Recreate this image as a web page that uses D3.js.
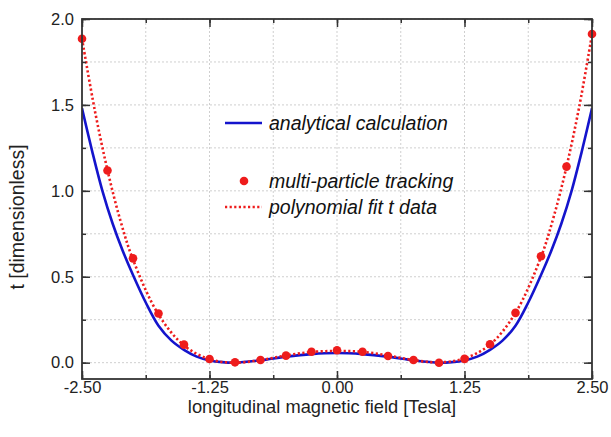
<!DOCTYPE html>
<html>
<head>
<meta charset="utf-8">
<script src="https://cdn.jsdelivr.net/npm/d3@7/dist/d3.min.js"></script>
<style>
  html, body { margin: 0; padding: 0; background: #fff; }
  svg { display: block; font-family: "Liberation Sans", Arial, sans-serif; }
</style>
</head>
<body>
<svg id="chart" width="611" height="437"></svg>
<script>
// ---- data ----
const xTicks = [-2.5, -1.25, 0, 1.25, 2.5];
const xTickLabels = ["-2.50", "-1.25", "0.00", "1.25", "2.50"];
const xMinorTicks = [-2.5, -1.875, -1.25, -0.625, 0, 0.625, 1.25, 1.875, 2.5];
const yTicks = [0, 0.5, 1.0, 1.5, 2.0];
const yTickLabels = ["0.0", "0.5", "1.0", "1.5", "2.0"];
const yMinorTicks = [0, 0.25, 0.5, 0.75, 1.0, 1.25, 1.5, 1.75, 2.0];

// multi-particle tracking (points)
const trackX = [-2.5, -2.25, -2.0, -1.75, -1.5, -1.25, -1.0, -0.75, -0.5, -0.25, 0,
                0.25, 0.5, 0.75, 1.0, 1.25, 1.5, 1.75, 2.0, 2.25, 2.5];
const trackY = [1.885, 1.118, 0.607, 0.286, 0.105, 0.021, 0.002, 0.016, 0.041, 0.064, 0.072,
                0.064, 0.039, 0.016, 0.0, 0.022, 0.107, 0.29, 0.619, 1.141, 1.913];

// polynomial fit of t data (dotted)
const fitX = [-2.5, -2.375, -2.25, -2.125, -2.0, -1.75, -1.5, -1.25, -1.0, -0.75, -0.5, -0.25, 0,
              0.25, 0.5, 0.75, 1.0, 1.25, 1.5, 1.75, 2.0, 2.125, 2.25, 2.375, 2.5];
const fitY = [1.885, 1.47, 1.12, 0.83, 0.60, 0.28, 0.10, 0.02, 0.0, 0.015, 0.042, 0.062, 0.068,
              0.063, 0.042, 0.015, 0.002, 0.025, 0.105, 0.29, 0.615, 0.85, 1.14, 1.49, 1.91];

// analytical calculation (solid)
const anaX = [-2.5, -2.4, -2.3, -2.2, -2.1, -2.0, -1.875, -1.75, -1.625, -1.5, -1.375, -1.25, -1.125, -1.0,
              -0.75, -0.5, -0.25, 0, 0.25, 0.5, 0.75,
              1.0, 1.125, 1.25, 1.375, 1.5, 1.625, 1.75, 1.875, 2.0, 2.1, 2.2, 2.3, 2.4, 2.5];
const anaY = [1.48, 1.23, 1.00, 0.81, 0.65, 0.51, 0.35, 0.215, 0.13, 0.075, 0.035, 0.013, 0.003, 0.0,
              0.014, 0.035, 0.05, 0.056, 0.05, 0.035, 0.014,
              0.0, 0.003, 0.013, 0.035, 0.075, 0.13, 0.215, 0.35, 0.51, 0.65, 0.81, 1.00, 1.23, 1.48];

const legendLabels = ["analytical calculation", "multi-particle tracking", "polynomial fit t data"];
const xTitle = "longitudinal magnetic field [Tesla]";
const yTitle = "t [dimensionless]";

(function draw() {
// ---- layout ----
const pL = 82, pR = 592, pT = 19, pB = 379;
const svg = d3.select("#chart");
const x = d3.scaleLinear().domain([-2.5, 2.5]).range([pL, pR]);
const y = d3.scaleLinear().domain([-0.095, 2.0]).range([pB, pT]);

const blue = "#1414cc", red = "#ee1c1c", frame = "#333";

// grid
const grid = svg.append("g").attr("stroke", "#cfcfcf").attr("stroke-width", 1).attr("stroke-dasharray", "2,2");
grid.selectAll("line.gx").data(xMinorTicks.slice(1, -1)).join("line")
  .attr("x1", d => x(d)).attr("x2", d => x(d)).attr("y1", pT).attr("y2", pB);
grid.selectAll("line.gy").data(yMinorTicks).join("line")
  .attr("x1", pL).attr("x2", pR).attr("y1", d => y(d)).attr("y2", d => y(d));

// clip
svg.append("clipPath").attr("id", "plot").append("rect")
  .attr("x", pL).attr("y", pT).attr("width", pR - pL).attr("height", pB - pT);

const line = d3.line().x(d => x(d[0])).y(d => y(d[1])).curve(d3.curveCatmullRom.alpha(0.5));

svg.append("path").datum(anaX.map((v, i) => [v, anaY[i]]))
  .attr("d", line).attr("fill", "none").attr("stroke", blue).attr("stroke-width", 2.6)
  .attr("clip-path", "url(#plot)");

svg.append("path").datum(fitX.map((v, i) => [v, fitY[i]]))
  .attr("d", line).attr("fill", "none").attr("stroke", red).attr("stroke-width", 2.6)
  .attr("stroke-dasharray", "2.2,2.4").attr("clip-path", "url(#plot)");

svg.append("g").selectAll("circle").data(trackX.map((v, i) => [v, trackY[i]])).join("circle")
  .attr("cx", d => x(d[0])).attr("cy", d => y(d[1])).attr("r", 4.3).attr("fill", red);

// axes (ticks inward)
const axG = svg.append("g");
function addAxis(axis, transform) {
  const g = axG.append("g").attr("transform", transform).call(axis);
  g.select(".domain").remove();
  g.selectAll(".tick line").attr("stroke", frame).attr("stroke-width", 1.5);
  return g;
}
addAxis(d3.axisBottom(x).tickValues(xMinorTicks).tickSize(-4).tickFormat(""), `translate(0,${pB})`);
addAxis(d3.axisTop(x).tickValues(xMinorTicks).tickSize(-4).tickFormat(""), `translate(0,${pT})`);
addAxis(d3.axisLeft(y).tickValues(yMinorTicks).tickSize(-4).tickFormat(""), `translate(${pL},0)`);
addAxis(d3.axisRight(y).tickValues(yMinorTicks).tickSize(-4).tickFormat(""), `translate(${pR},0)`);

const xb = addAxis(d3.axisBottom(x).tickValues(xTicks).tickSize(-8).tickPadding(2)
  .tickFormat((d, i) => xTickLabels[i]), `translate(0,${pB})`);
xb.selectAll("text").attr("font-size", 16.5).attr("fill", "#222").attr("font-family", "Liberation Sans, Arial, sans-serif");
addAxis(d3.axisTop(x).tickValues(xTicks).tickSize(-8).tickFormat(""), `translate(0,${pT})`);
const yl = addAxis(d3.axisLeft(y).tickValues(yTicks).tickSize(-8).tickPadding(8)
  .tickFormat((d, i) => yTickLabels[i]), `translate(${pL},0)`);
yl.selectAll("text").attr("font-size", 16.5).attr("fill", "#222").attr("font-family", "Liberation Sans, Arial, sans-serif");
addAxis(d3.axisRight(y).tickValues(yTicks).tickSize(-8).tickFormat(""), `translate(${pR},0)`);

svg.append("rect").attr("x", pL).attr("y", pT).attr("width", pR - pL).attr("height", pB - pT)
  .attr("fill", "none").attr("stroke", frame).attr("stroke-width", 1.8);

// titles
svg.append("text").attr("x", 322).attr("y", 413).attr("text-anchor", "middle")
  .attr("font-size", 18.3).attr("fill", "#222").text(xTitle);
svg.append("text").attr("transform", "translate(24,217) rotate(-90)").attr("text-anchor", "middle")
  .attr("font-size", 19.5).attr("fill", "#222").text(yTitle);

// legend
const lg = svg.append("g").attr("font-size", 19.5).attr("font-style", "italic").attr("fill", "#111");
lg.append("line").attr("x1", 225).attr("x2", 262).attr("y1", 123).attr("y2", 123)
  .attr("stroke", blue).attr("stroke-width", 2.6);
lg.append("text").attr("x", 269).attr("y", 130).text(legendLabels[0]);
lg.append("circle").attr("cx", 244).attr("cy", 181).attr("r", 4.3).attr("fill", red);
lg.append("text").attr("x", 269).attr("y", 188).text(legendLabels[1]);
lg.append("line").attr("x1", 225).attr("x2", 262).attr("y1", 207).attr("y2", 207)
  .attr("stroke", red).attr("stroke-width", 2.6).attr("stroke-dasharray", "2.2,2.4");
lg.append("text").attr("x", 269).attr("y", 214).text(legendLabels[2]);
})();
</script>
</body>
</html>
